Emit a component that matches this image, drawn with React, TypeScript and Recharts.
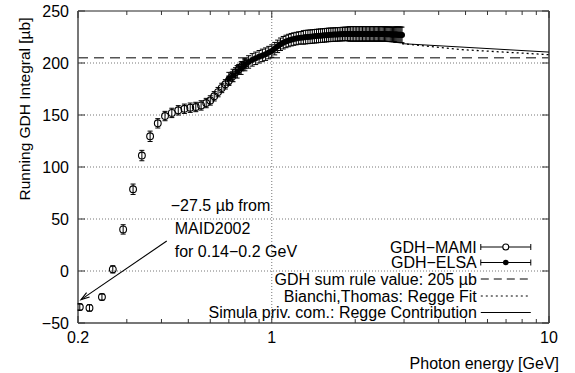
import React from 'react';
import { ScatterChart, Scatter, XAxis, YAxis, ErrorBar, ReferenceLine, ReferenceArea, Label } from 'recharts';

const FONT = '"Liberation Sans", Arial, Helvetica, sans-serif';
const FS = 16;

// GDH-MAMI running integral: photon energy [GeV], integral [μb], error
const MAMI_E = [0.203, 0.22, 0.244, 0.267, 0.291, 0.316, 0.34, 0.364, 0.388, 0.412, 0.436, 0.46, 0.484,
  0.508, 0.532, 0.556, 0.58, 0.6, 0.62, 0.64, 0.66, 0.68, 0.7, 0.72, 0.74, 0.76, 0.78, 0.8];
const MAMI_V = [-34.6, -35.5, -25, 1.6, 40, 78.6, 111, 129.5, 142, 149, 152, 154.5, 156,
  157, 157.7, 159.2, 161.5, 164, 168, 172, 176, 179.5, 183, 187, 191, 194, 197, 199];
const MAMI_ERR = [3, 3, 3, 3.5, 4.5, 5, 5, 5, 4.5, 4.5, 4.5, 4.5, 4.5,
  4.5, 4.5, 4.5, 4.5, 4.5, 4.5, 4.5, 4.5, 4.5, 4.5, 4.5, 4.5, 4.5, 4.5, 4.5];

// GDH-ELSA running integral
const ELSA_E = [
  0.7, 0.725, 0.75, 0.775, 0.8, 0.825, 0.85, 0.875, 0.9, 0.925, 0.95, 0.975,
  1.0, 1.025, 1.05, 1.075, 1.1, 1.125, 1.15, 1.175, 1.2, 1.225, 1.25, 1.275,
  1.3, 1.325, 1.35, 1.375, 1.4, 1.425, 1.45, 1.475, 1.5, 1.525, 1.55, 1.575,
  1.6, 1.625, 1.65, 1.675, 1.7, 1.725, 1.75, 1.775, 1.8, 1.825, 1.85, 1.875,
  1.9, 1.925, 1.95, 1.975, 2.0, 2.025, 2.05, 2.075, 2.1, 2.125, 2.15, 2.175,
  2.2, 2.225, 2.25, 2.275, 2.3, 2.325, 2.35, 2.375, 2.4, 2.425, 2.45, 2.475,
  2.5, 2.525, 2.55, 2.575, 2.6, 2.625, 2.65, 2.675, 2.7, 2.725, 2.75, 2.775,
  2.8, 2.825, 2.85, 2.875, 2.9, 2.925, 2.95,
];
const ELSA_V = [
  185, 188, 191.5, 195, 198.5, 201, 203, 204.5, 206, 207.3, 208.5, 210,
  211.5, 213.8, 216, 218, 219.5, 220.7, 221.6, 222.4, 223, 223.5, 224, 224.3,
  224.6, 224.9, 225.1, 225.3, 225.5, 225.7, 225.9, 226.1, 226.3, 226.4, 226.6, 226.8,
  227, 227.1, 227.2, 227.3, 227.4, 227.5, 227.6, 227.7, 227.8, 227.9, 228, 228,
  228, 228, 228, 228, 228, 228, 228, 228, 228, 228, 228, 228,
  228, 228, 228, 228, 228, 228, 228, 228, 228, 228, 228, 228,
  228, 227.9, 227.8, 227.8, 227.7, 227.7, 227.6, 227.6, 227.5, 227.5, 227.4, 227.4,
  227.3, 227.3, 227.2, 227.2, 227.1, 227.1, 227,
];
const ELSA_ERR = [
  6, 6, 6, 6, 6, 6, 6, 6, 6, 6, 6, 6,
  6, 6, 6, 6, 6, 6, 6, 6, 6, 6, 6, 6,
  6.5, 6.5, 6.5, 6.5, 6.5, 6.5, 6.5, 6.5, 6.5, 6.5, 6.5, 6.5,
  6.5, 6.5, 6.5, 6.5, 6.5, 6.5, 6.5, 6.5, 6.5, 6.5, 6.5, 6.5,
  7, 7, 7, 7, 7, 7, 7, 7, 7, 7, 7, 7,
  7, 7, 7, 7, 7, 7, 7, 7, 7, 7, 7, 7,
  7, 7, 7, 7, 7, 7, 7, 7, 7, 7, 7, 7,
  7.5, 7.5, 7.5, 7.5, 7.5, 7.5, 7.5,
];

// Regge extrapolations above 2.9 GeV
const FIT_E = [2.95, 4.8, 10];
const FIT_V = [218.6, 212.9, 208];
const CONTRIB_E = [2.95, 10];
const CONTRIB_V = [218.6, 210.5];

const GDH_SUM_RULE = 205;
const MAID_E = [0.418, 0.205];
const MAID_V = [28.8, -27.5];

const X_TICKS = [0.2, 0.3, 0.4, 0.5, 0.6, 0.7, 0.8, 0.9, 1, 2, 3, 4, 5, 6, 7, 8, 9, 10];
const X_LABELS = [0.2, 1, 10];
const Y_TICKS = [-50, 0, 50, 100, 150, 200, 250];
const GRID_Y = [0, 50, 100, 150, 200];

const W = 575;
const H = 373;
const LEFT = 78;
const TOP = 11;
const RIGHT = 549;
const BOTTOM = 323;

const mami = MAMI_E.map((e, i) => ({ e, v: MAMI_V[i], err: MAMI_ERR[i] }));
const elsa = ELSA_E.map((e, i) => ({ e, v: ELSA_V[i], err: ELSA_ERR[i] }));
const fit = FIT_E.map((e, i) => ({ e, v: FIT_V[i] }));
const contrib = CONTRIB_E.map((e, i) => ({ e, v: CONTRIB_V[i] }));

const textStyle = { fontFamily: FONT, fontSize: FS, fill: '#000' };

const OpenCircle = (p: any) => (
  <circle cx={p.cx} cy={p.cy} r={3.4} fill="none" stroke="#000" strokeWidth={1.1} />
);
const FilledCircle = (p: any) => <circle cx={p.cx} cy={p.cy} r={3} fill="#000" />;
const NoMarker = () => <g />;

const XTick = (p: any) => {
  const v = p.payload.value;
  const major = X_LABELS.includes(v);
  const len = major ? 7 : 4;
  return (
    <g>
      <line x1={p.x} y1={BOTTOM} x2={p.x} y2={BOTTOM - len} stroke="#333" />
      <line x1={p.x} y1={TOP} x2={p.x} y2={TOP + len} stroke="#333" />
      {major && (
        <text x={p.x} y={BOTTOM + 14} textAnchor="middle" dominantBaseline="central" style={textStyle}>
          {String(v)}
        </text>
      )}
    </g>
  );
};

const YTick = (p: any) => {
  const v = p.payload.value;
  return (
    <g>
      <line x1={LEFT} y1={p.y} x2={LEFT + 7} y2={p.y} stroke="#333" />
      <line x1={RIGHT} y1={p.y} x2={RIGHT - 7} y2={p.y} stroke="#333" />
      <text x={LEFT - 9} y={p.y} textAnchor="end" dominantBaseline="central" style={textStyle}>
        {v < 0 ? `\u2212${Math.abs(v)}` : String(v)}
      </text>
    </g>
  );
};

// opaque key box with the five entries
const KeyBox = (p: any) => {
  const right = p.x + p.width;
  const tx = right - 56;
  const s1 = right - 52;
  const s2 = right - 2;
  const sm = (s1 + s2) / 2;
  const rows = [247, 262.5, 279, 296, 312.5];
  const labels = [
    'GDH\u2212MAMI',
    'GDH\u2212ELSA',
    'GDH sum rule value: 205 \u00b5b',
    'Bianchi,Thomas: Regge Fit',
    'Simula priv. com.: Regge Contribution',
  ];
  const errSample = (y: number, filled: boolean) => (
    <g>
      <line x1={s1} y1={y} x2={s2} y2={y} stroke="#000" />
      <line x1={s1} y1={y - 3} x2={s1} y2={y + 3} stroke="#000" />
      <line x1={s2} y1={y - 3} x2={s2} y2={y + 3} stroke="#000" />
      {filled ? (
        <circle cx={sm} cy={y} r={2.8} fill="#000" />
      ) : (
        <circle cx={sm} cy={y} r={3} fill="#fff" stroke="#000" strokeWidth={1.1} />
      )}
    </g>
  );
  return (
    <g>
      <rect x={p.x} y={p.y} width={p.width} height={p.height} fill="#fff" />
      {labels.map((t, i) => (
        <text key={t} x={tx} y={rows[i]} textAnchor="end" dominantBaseline="central" style={textStyle}>
          {t}
        </text>
      ))}
      {errSample(rows[0], false)}
      {errSample(rows[1], true)}
      <line x1={s1} y1={rows[2]} x2={s2} y2={rows[2]} stroke="#000" strokeDasharray="8 5" />
      <line x1={s1} y1={rows[3]} x2={s2} y2={rows[3]} stroke="#000" strokeDasharray="2 3" />
      <line x1={s1} y1={rows[4]} x2={s2} y2={rows[4]} stroke="#000" />
    </g>
  );
};

// arrow to the MAID2002 low-energy contribution, with its note
const MaidArrow = (p: any) => {
  const { x1, y1, x2, y2 } = p;
  const ang = Math.atan2(y1 - y2, x1 - x2);
  const L = 9;
  const a = 0.3;
  return (
    <g>
      <line x1={x1} y1={y1} x2={x2} y2={y2} stroke="#000" strokeWidth={1.1} />
      <polyline
        points={`${x2 + L * Math.cos(ang + a)},${y2 + L * Math.sin(ang + a)} ${x2},${y2} ${x2 + L * Math.cos(ang - a)},${y2 + L * Math.sin(ang - a)}`}
        fill="none"
        stroke="#000"
        strokeWidth={1.1}
      />
      <text x={x1 + 4} y={y1 - 36} dominantBaseline="central" style={textStyle}>
        {'\u221227.5 \u00b5b from'}
      </text>
      <text x={x1 + 8} y={y1 - 13} dominantBaseline="central" style={textStyle}>
        MAID2002
      </text>
      <text x={x1 + 8} y={y1 + 10} dominantBaseline="central" style={textStyle}>
        {'for 0.14\u22120.2 GeV'}
      </text>
    </g>
  );
};

const Frame = (p: any) => (
  <g fill="none">
    <line x1={p.x} y1={p.y} x2={p.x + p.width} y2={p.y} stroke="#222" strokeWidth={1} />
    <line x1={p.x + p.width} y1={p.y} x2={p.x + p.width} y2={p.y + p.height} stroke="#666" strokeWidth={2} />
    <line x1={p.x} y1={p.y} x2={p.x} y2={p.y + p.height} stroke="#777" strokeWidth={2} />
    <line x1={p.x} y1={p.y + p.height} x2={p.x + p.width} y2={p.y + p.height} stroke="#777" strokeWidth={2} />
  </g>
);

export default function App() {
  return (
    <div style={{ position: 'absolute', left: 0, top: 0, width: W, height: H, background: '#fff' }}>
      <ScatterChart width={W} height={H} margin={{ top: TOP, right: W - RIGHT, bottom: 0, left: 0 }}>
        <XAxis
          dataKey="e"
          type="number"
          scale="log"
          domain={[0.2, 10]}
          ticks={X_TICKS}
          interval={0}
          allowDataOverflow
          height={H - BOTTOM}
          axisLine={false}
          tickLine={false}
          tick={XTick}
        >
          <Label
            content={() => (
              <text x={559} y={363} textAnchor="end" dominantBaseline="central" style={textStyle}>
                Photon energy [GeV]
              </text>
            )}
          />
        </XAxis>
        <YAxis
          dataKey="v"
          type="number"
          domain={[-50, 250]}
          ticks={Y_TICKS}
          interval={0}
          allowDataOverflow
          width={LEFT}
          axisLine={false}
          tickLine={false}
          tick={YTick}
        >
          <Label
            content={() => (
              <text
                x={24}
                y={109}
                transform="rotate(-90 24 109)"
                textAnchor="middle"
                dominantBaseline="central"
                style={{ ...textStyle, fontSize: 15.5 }}
              >
                Running GDH Integral [{'\u00b5'}b]
              </text>
            )}
          />
        </YAxis>

        {GRID_Y.map((y) => (
          <ReferenceLine key={y} y={y} stroke="#777" strokeDasharray="1 2" />
        ))}
        <ReferenceLine x={1} stroke="#777" strokeDasharray="1 2" />
        <ReferenceLine y={GDH_SUM_RULE} stroke="#555" strokeWidth={1.6} strokeDasharray="10 6" />

        <ReferenceArea x1={0.2737} x2={8.74} y1={-48} y2={31.7} shape={KeyBox} />

        <Scatter data={mami} shape={OpenCircle} isAnimationActive={false}>
          <ErrorBar dataKey="err" direction="y" width={2.5} stroke="#000" strokeWidth={1} isAnimationActive={false} />
        </Scatter>
        <Scatter data={elsa} shape={FilledCircle} isAnimationActive={false}>
          <ErrorBar dataKey="err" direction="y" width={2.5} stroke="#000" strokeWidth={1} isAnimationActive={false} />
        </Scatter>
        <Scatter
          data={fit}
          shape={NoMarker}
          line={{ stroke: '#000', strokeWidth: 1.3, strokeDasharray: '2 3' }}
          isAnimationActive={false}
        />
        <Scatter
          data={contrib}
          shape={NoMarker}
          line={{ stroke: '#000', strokeWidth: 1 }}
          isAnimationActive={false}
        />

        <ReferenceLine
          segment={[
            { x: MAID_E[0], y: MAID_V[0] },
            { x: MAID_E[1], y: MAID_V[1] },
          ]}
          shape={MaidArrow}
        />
        <ReferenceArea x1={0.2} x2={10} y1={-50} y2={250} shape={Frame} />
      </ScatterChart>
    </div>
  );
}
